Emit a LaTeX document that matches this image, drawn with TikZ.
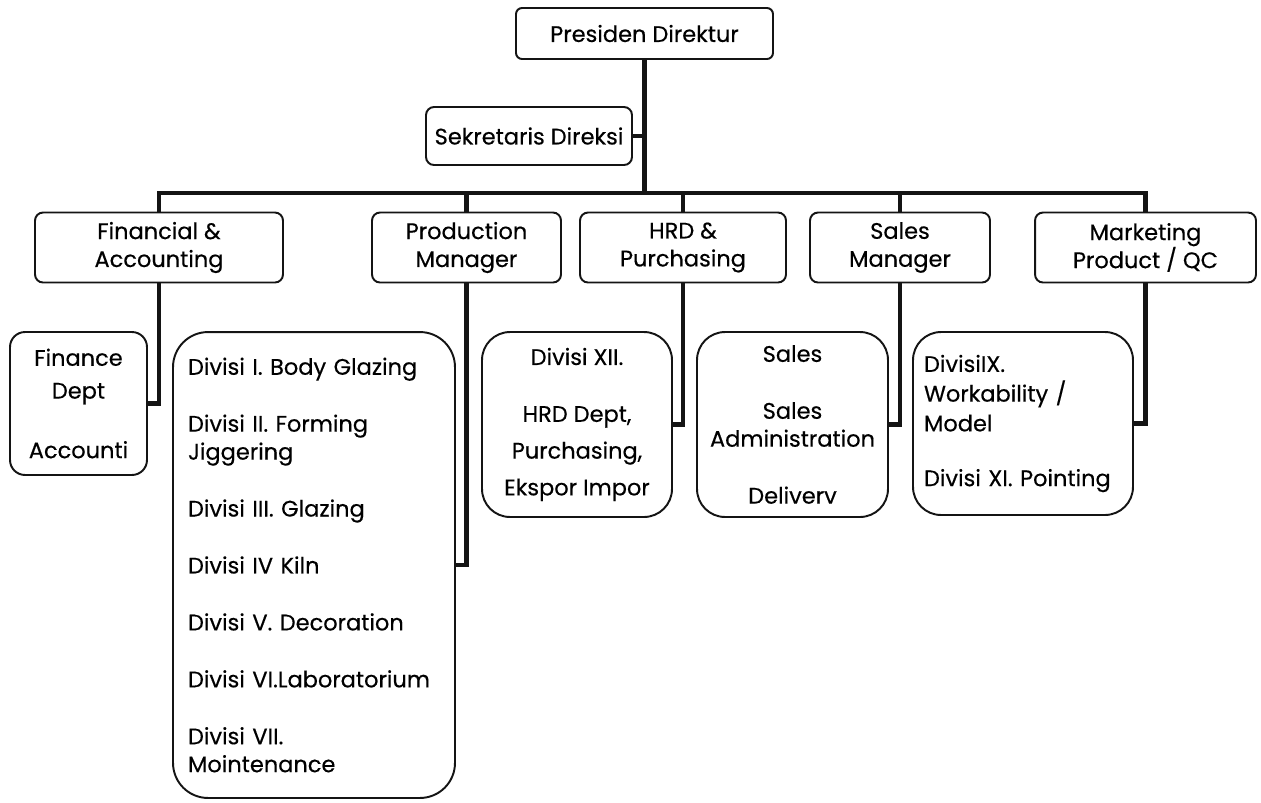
\documentclass[tikz,border=0pt]{standalone}
\usepackage{fontspec}
\setmainfont{Poppins}[FakeBold=0.4]
\usetikzlibrary{positioning}
\definecolor{orgline}{RGB}{20,20,20}
\tikzset{
    orgbox/.style={draw=orgline, line width=1.1pt, rounded corners=0.16cm,
        align=center, inner sep=0pt, minimum height=1.4cm},
    subbox/.style={draw=orgline, line width=1.1pt, rounded corners=0.56cm,
        inner sep=0pt, minimum height=3.7cm},
    orglink/.style={draw=orgline, line width=2.4pt},
}

\begin{document}
\begin{tikzpicture}[x=0.02cm, y=-0.02cm, font=\fontsize{12.8}{15.9}\selectfont]

        \useasboundingbox (0,0) rectangle (1261,802);
        \fill[white] (0,0) rectangle (1261,802);

        % ---------------- top ----------------
        \node[orgbox, rounded corners=0.12cm, minimum width=5.14cm, minimum height=1.02cm]
            (pres) at (644.5,33.5) {Presiden Direktur};
        \node[orgbox, minimum width=4.12cm, minimum height=1.16cm]
            (sek) at (529,136) {Sekretaris Direksi};

        % ---------------- managers ----------------
        \node[orgbox, minimum width=4.96cm] (fin)   at (159,247.5)    {Financial \&\\ Accounting};
        \node[orgbox, minimum width=3.78cm] (prod)  at (466.5,247.5)  {Production\\ Manager};
        \node[orgbox, minimum width=4.12cm] (hrd)   at (683,247.5)    {HRD \&\\ Purchasing};
        \node[orgbox, minimum width=3.6cm]  (sales) at (900,247.5)    {Sales\\ Manager};
        \node[orgbox, minimum width=4.42cm] (mkt)   at (1145.5,247.5) {Marketing\\ Product / QC};

        % ---------------- divisions ----------------
        \node[subbox, rounded corners=0.3cm, minimum width=2.74cm, minimum height=2.86cm, align=center]
            (findept) at (78.5,403.5) {Finance\\[2.8pt] Dept\\[18pt] Accounti};
        \node[subbox, rounded corners=0.7cm, minimum height=9.32cm, text width=5.04cm,
            inner xsep=0.3cm, align=left] (prodlist) at (314,565)
            {Divisi I. Body Glazing\\[16.5pt]
             Divisi II. Forming\\ Jiggering\\[16.5pt]
             Divisi III. Glazing\\[16.5pt]
             Divisi IV Kiln\\[16.5pt]
             Divisi V. Decoration\\[16.5pt]
             Divisi VI.Laboratorium\\[16.5pt]
             Divisi VII.\\ Mointenance};
        \node[subbox, minimum width=3.8cm, align=center] (hrdsub) at (577,424.5)
            {Divisi XII.\\[16.5pt] HRD Dept,\\[5pt] Purchasing,\\[5pt] Ekspor Impor};
        \node[subbox, minimum width=3.82cm, align=center] (salessub) at (792.5,424.5)
            {Sales\\[16.5pt] Sales\\ Administration\\[16.5pt] Deliverv};
        \node[subbox, minimum height=3.66cm, text width=3.96cm, inner xsep=0.22cm, align=left]
            (mktsub) at (1023,423.5)
            {DivisiIX.\\[1pt] Workability /\\[1pt] Model\\[15.3pt] Divisi XI. Pointing};

        % ---------------- links ----------------
        \coordinate (bus) at (644.5,193);
        \draw[orglink] (pres.south) -- (bus);
        \draw[orglink] (sek.east) -- (sek.east -| bus);
        \draw[orglink] (fin.north) |- (bus) -| (mkt.north);
        \foreach \n in {prod,hrd,sales}
            \draw[orglink] (\n.north) -- (\n.north |- bus);
        \foreach \p/\c in {fin/findept,prod/prodlist,hrd/hrdsub,sales/salessub,mkt/mktsub}
            \draw[orglink] (\p.south) |- (\c.east);

    \end{tikzpicture}
\end{document}
